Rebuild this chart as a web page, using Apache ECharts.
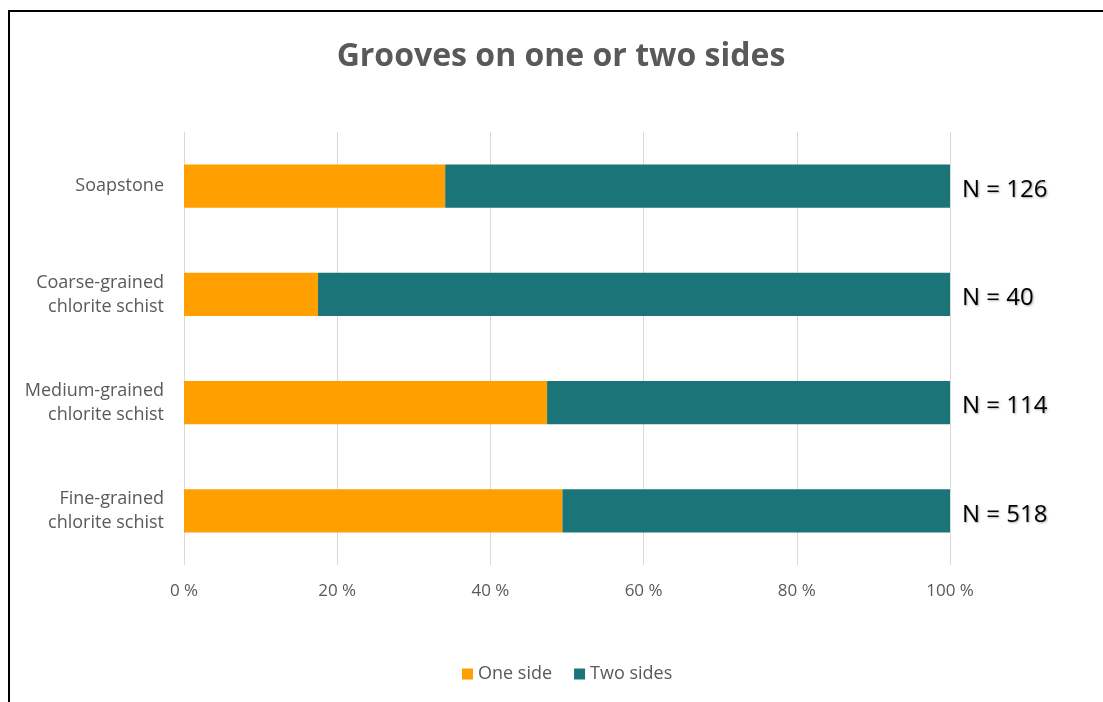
<!DOCTYPE html>
<html>
<head>
<meta charset="utf-8">
<script src="https://cdn.jsdelivr.net/npm/echarts@6/dist/echarts.min.js"></script>
<style>
  html, body { margin: 0; padding: 0; width: 1103px; height: 702px; overflow: hidden; background: #fff; }
  #frame { position: absolute; left: 8px; top: 10px; width: 1200px; height: 800px; border: 2px solid #000; box-sizing: border-box; }
  #chart { position: absolute; left: 0; top: 0; width: 1103px; height: 702px; }
</style>
</head>
<body>
<div id="frame"></div>
<div id="chart"></div>
<script>
// Rock types, listed top to bottom
const categories = ['Soapstone', 'Coarse-grained\nchlorite schist', 'Medium-grained\nchlorite schist', 'Fine-grained\nchlorite schist'];
// Share of pieces with grooves on one side / on two sides (%)
const oneSide = [34.1, 17.5, 47.4, 49.4];
const twoSides = [65.9, 82.5, 52.6, 50.6];
// Sample sizes per rock type
const sampleSizes = [126, 40, 114, 518];
const xTicks = [0, 20, 40, 60, 80, 100];

const chart = echarts.init(document.getElementById('chart'), null, { renderer: 'canvas' });
const font = "'Open Sans', 'Noto Sans', sans-serif";

chart.setOption({
  animation: false,
  title: {
    text: 'Grooves on one or two sides',
    left: 556, top: 36, textAlign: 'center',
    textStyle: { fontFamily: font, fontSize: 32, fontWeight: 'bold', color: '#595959' }
  },
  legend: {
    bottom: 14, left: 457,
    itemWidth: 11, itemHeight: 11, itemGap: 22,
    icon: 'rect',
    textStyle: { fontFamily: font, fontSize: 18, color: '#595959' },
    data: ['One side', 'Two sides']
  },
  grid: { left: 184, right: 153, top: 132, bottom: 137, containLabel: false },
  xAxis: {
    type: 'value', min: 0, max: 100, interval: 20,
    axisLine: { show: false }, axisTick: { show: false },
    splitLine: { show: true, lineStyle: { color: '#d9d9d9', width: 1 } },
    axisLabel: {
      margin: 18,
      fontFamily: font, fontSize: 17, color: '#595959',
      formatter: v => xTicks.includes(v) ? v + ' %' : ''
    }
  },
  yAxis: {
    type: 'category', inverse: true, data: categories,
    axisLine: { show: false }, axisTick: { show: false },
    axisLabel: {
      margin: 20, align: 'right', lineHeight: 24,
      fontFamily: font, fontSize: 18, color: '#595959'
    }
  },
  series: [
    {
      name: 'One side', type: 'bar', stack: 'total', barWidth: '40%',
      itemStyle: { color: '#FF9F00' },
      data: oneSide
    },
    {
      name: 'Two sides', type: 'bar', stack: 'total', barWidth: '40%',
      itemStyle: { color: '#1B7478' },
      data: twoSides,
      label: {
        show: true, position: 'right', distance: 12, offset: [0, 4],
        fontFamily: font, fontSize: 24, color: '#000',
        textShadowColor: 'rgba(0,0,0,0.35)', textShadowBlur: 2, textShadowOffsetX: 1, textShadowOffsetY: 1,
        formatter: p => 'N = ' + sampleSizes[p.dataIndex]
      }
    }
  ]
});
</script>
</body>
</html>
